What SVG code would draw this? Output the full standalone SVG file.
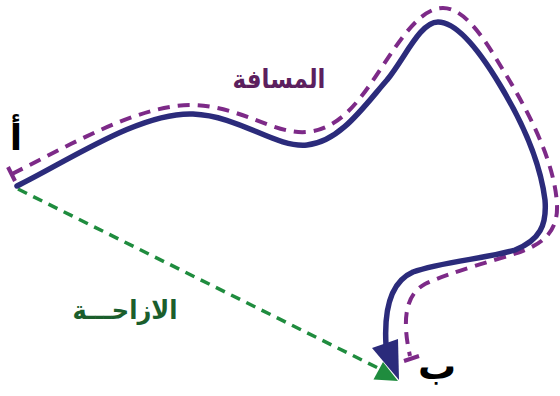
<svg xmlns="http://www.w3.org/2000/svg" width="560" height="396" viewBox="0 0 560 396">
<style>
.lbl{font-family:"DejaVu Sans","Noto Sans",sans-serif;font-weight:bold;text-anchor:middle}
.blue{fill:none;stroke:#2b2b7b;stroke-width:5.5;stroke-linecap:round}
.purple{fill:none;stroke:#7d2a88;stroke-width:4;stroke-dasharray:12 8}
.green{fill:none;stroke:#1f8c3e;stroke-width:3.5;stroke-dasharray:10 7}
</style>
<rect width="560" height="396" fill="#fff"/>
<g id="connectors">
<path id="displacement" class="green" d="M18,189 L380,369"/>
<polygon points="398,381 373.5,379.5 383,362" fill="#1f8c3e"/>
<path id="distance" class="purple" d="M12,174 C70,145 140,104 193,105 C240,106 275,135 307,132 C340,129 360,100 380,70 C400,40 420,8 443,8 C465,8 485,40 500,65 C525,105 555,160 557,205 C558,230 545,243 520,252 C490,262 450,272 425,284 C405,295 402,320 410,356"/>
<line x1="8" y1="167" x2="15" y2="181" stroke="#7d2a88" stroke-width="4"/>
<line x1="404" y1="361" x2="419" y2="356" stroke="#7d2a88" stroke-width="4"/>
<path id="path" class="blue" d="M17,186 C70,160 140,112 193,114 C240,116 275,148 307,145 C340,142 365,105 387,80 C405,58 420,22 438,22 C460,22 485,60 500,85 C520,118 540,160 545,200 C547,225 540,240 515,250 C490,258 440,262 413,272 C390,282 384,310 386,345"/>
<polygon points="372,348 398,339 399,380" fill="#2b2b7b"/>
</g>
<g id="node-a"><text class="lbl" x="16" y="150" font-size="36" fill="#000">أ</text></g>
<g id="node-b"><text class="lbl" x="437" y="379" font-size="38" fill="#000">ب</text></g>
<g id="label-distance"><text class="lbl" x="279" y="88" font-size="26" fill="#5c1f5e" textLength="93" lengthAdjust="spacingAndGlyphs">المسافة</text></g>
<g id="label-displacement"><text class="lbl" x="125" y="319" font-size="26" fill="#1b5e2c" textLength="105" lengthAdjust="spacingAndGlyphs">الازاحـــة</text></g>
</svg>
